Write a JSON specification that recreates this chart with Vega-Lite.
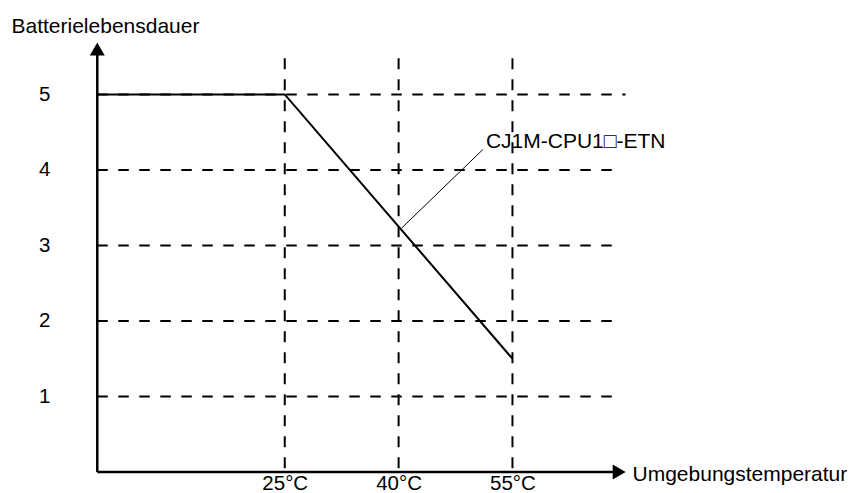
{
  "$schema": "https://vega.github.io/schema/vega-lite/v6.json",
  "autosize": "none",
  "width": 755,
  "height": 472,
  "padding": {"left": 95, "top": 0, "right": 0, "bottom": 21},
  "background": "white",
  "config": {
    "view": {"stroke": null},
    "font": "Liberation Sans",
    "text": {"font": "Liberation Sans"}
  },
  "datasets": {
    "hgrid": [
      {"t": 0.3, "t2": 69.0, "y": 1},
      {"t": 0.3, "t2": 69.0, "y": 2},
      {"t": 0.3, "t2": 69.0, "y": 3},
      {"t": 0.3, "t2": 69.0, "y": 4},
      {"t": 0.3, "t2": 69.9, "y": 5}
    ],
    "vgrid": [
      {"t": 25, "y": 5.48, "y2": 0},
      {"t": 40, "y": 5.48, "y2": 0},
      {"t": 55, "y": 5.48, "y2": 0}
    ],
    "axes": [
      {"t": 0.3, "t2": 0.3, "y": 0, "y2": 5.6},
      {"t": 0.3, "t2": 69.0, "y": 0, "y2": 0}
    ],
    "arrowY": [{"t": 0.3, "y": 5.6}],
    "arrowX": [{"t": 69.06, "y": 0}],
    "life": [
      {"t": 0.3, "y": 5},
      {"t": 25, "y": 5},
      {"t": 55, "y": 1.5}
    ],
    "leader": [{"t": 40.4, "y": 3.23, "t2": 51.1, "y2": 4.27}],
    "label": [{"t": 51.5, "y": 4.29, "label": "CJ1M-CPU1□-ETN"}]
  },
  "encoding": {
    "x": {
      "field": "t",
      "type": "quantitative",
      "scale": {"domain": [0, 99.47], "nice": false, "zero": false},
      "axis": {
        "values": [25, 40, 55],
        "labelExpr": "datum.value + '°C'",
        "domain": false,
        "ticks": false,
        "tickSize": 0,
        "grid": false,
        "labelPadding": 1,
        "labelFontSize": 20.5,
        "labelFont": "Liberation Sans",
        "labelColor": "black",
        "labelFlush": false,
        "labelOverlap": false,
        "title": "Umgebungstemperatur",
        "titleFont": "Liberation Sans",
        "titleFontSize": 21,
        "titleFontWeight": "normal",
        "titleColor": "black",
        "titleAlign": "left",
        "titleBaseline": "alphabetic",
        "titleX": 537,
        "titleY": 8
      }
    },
    "y": {
      "field": "y",
      "type": "quantitative",
      "scale": {"domain": [0, 6.25], "nice": false, "zero": false},
      "axis": {
        "values": [1, 2, 3, 4, 5],
        "domain": false,
        "ticks": false,
        "tickSize": 0,
        "grid": false,
        "labelPadding": 45,
        "labelFontSize": 20.5,
        "labelFont": "Liberation Sans",
        "labelColor": "black",
        "labelFlush": false,
        "labelOverlap": false,
        "title": "Batterielebensdauer",
        "titleFont": "Liberation Sans",
        "titleFontSize": 21,
        "titleFontWeight": "normal",
        "titleColor": "black",
        "titleAngle": 0,
        "titleAlign": "left",
        "titleBaseline": "alphabetic",
        "titleX": -84,
        "titleY": 32
      }
    }
  },
  "layer": [
    {
      "data": {"name": "hgrid"},
      "mark": {"type": "rule", "color": "black", "strokeWidth": 2, "strokeDash": [10.5, 10.5]},
      "encoding": {"x2": {"field": "t2"}}
    },
    {
      "data": {"name": "vgrid"},
      "mark": {"type": "rule", "color": "black", "strokeWidth": 2, "strokeDash": [11, 10]},
      "encoding": {"y2": {"field": "y2"}}
    },
    {
      "data": {"name": "axes"},
      "mark": {"type": "rule", "color": "black", "strokeWidth": 2.5},
      "encoding": {"x2": {"field": "t2"}, "y2": {"field": "y2"}}
    },
    {
      "data": {"name": "arrowY"},
      "mark": {"type": "point", "shape": "triangle-up", "size": 225, "filled": true, "color": "black", "opacity": 1}
    },
    {
      "data": {"name": "arrowX"},
      "mark": {"type": "point", "shape": "triangle-right", "size": 225, "filled": true, "color": "black", "opacity": 1}
    },
    {
      "data": {"name": "life"},
      "mark": {"type": "line", "color": "black", "strokeWidth": 2}
    },
    {
      "data": {"name": "leader"},
      "mark": {"type": "rule", "color": "black", "strokeWidth": 1},
      "encoding": {"x2": {"field": "t2"}, "y2": {"field": "y2"}}
    },
    {
      "data": {"name": "label"},
      "mark": {"type": "text", "align": "left", "baseline": "alphabetic", "fontSize": 21, "color": "black"},
      "encoding": {"text": {"field": "label"}}
    }
  ]
}
